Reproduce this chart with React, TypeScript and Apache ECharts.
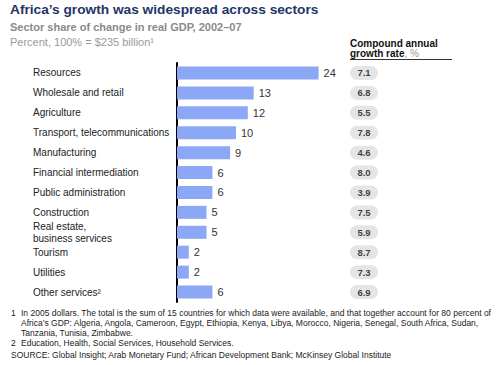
import React, { useEffect, useRef } from "react";
import * as echarts from "echarts";

const categories = [
  "Resources",
  "Wholesale and retail",
  "Agriculture",
  "Transport, telecommunications",
  "Manufacturing",
  "Financial intermediation",
  "Public administration",
  "Construction",
  "Real estate,\nbusiness services",
  "Tourism",
  "Utilities",
  "Other services²",
];
const shareValues = [24, 13, 12, 10, 9, 6, 6, 5, 5, 2, 2, 6];
const growthRates = ["7.1", "6.8", "5.5", "7.8", "4.6", "8.0", "3.9", "7.5", "5.9", "8.7", "7.3", "6.9"];

const titleText = "Africa’s growth was widespread across sectors";
const subtitleText = "Sector share of change in real GDP, 2002–07";
const unitText = "Percent, 100% = $235 billion¹";
const footnoteLines: { num: string; text: string }[] = [
  { num: "1", text: "In 2005 dollars. The total is the sum of 15 countries for which data were available, and that together account for 80 percent of" },
  { num: "", text: "Africa’s GDP: Algeria, Angola, Cameroon, Egypt, Ethiopia, Kenya, Libya, Morocco, Nigeria, Senegal, South Africa, Sudan," },
  { num: "", text: "Tanzania, Tunisia, Zimbabwe." },
  { num: "2", text: "Education, Health, Social Services, Household Services." },
];
const sourceText = "SOURCE: Global Insight; Arab Monetary Fund; African Development Bank; McKinsey Global Institute";

const FONT = "'Liberation Sans', Arial, Helvetica, sans-serif";
const PILL = "path://M7,0 H21 A7,7 0 0 1 21,14 H7 A7,7 0 0 1 7,0 Z";

export default function App() {
  const ref = useRef<HTMLDivElement>(null);
  useEffect(() => {
    if (!ref.current) return;
    const chart = echarts.init(ref.current, undefined, { renderer: "svg" });
    const top = 63;
    const height = 239;
    const footY = [313, 323, 332.5, 343];
    const graphic: any[] = [
      { type: "text", left: 10, top: 2, style: { text: titleText, font: `bold 13.7px ${FONT}`, fill: "#1f3566" } },
      { type: "text", left: 10, top: 21, style: { text: subtitleText, font: `bold 11px ${FONT}`, fill: "#8a8a8a" } },
      { type: "text", left: 10, top: 36, style: { text: unitText, font: `11px ${FONT}`, fill: "#9a9a9a" } },
      { type: "text", left: 350, top: 38.5, style: { text: "Compound annual", font: `bold 10px ${FONT}`, fill: "#111" } },
      {
        type: "text",
        left: 350,
        top: 48.5,
        style: {
          text: "{b|growth rate}{g|, %}",
          rich: {
            b: { font: `bold 10px ${FONT}`, fill: "#111" },
            g: { font: `10px ${FONT}`, fill: "#999" },
          },
        },
      },
      { type: "line", shape: { x1: 350, y1: 59.5, x2: 452, y2: 59.5 }, style: { stroke: "#333", lineWidth: 1 } },
    ];
    footnoteLines.forEach((f, i) => {
      if (f.num) {
        graphic.push({ type: "text", x: 11, y: footY[i], style: { text: f.num, font: `8.5px ${FONT}`, fill: "#222", verticalAlign: "middle" } });
      }
      graphic.push({ type: "text", x: 21, y: footY[i], style: { text: f.text, font: `8.5px ${FONT}`, fill: "#222", verticalAlign: "middle" } });
    });
    graphic.push({ type: "text", x: 11, y: 355, style: { text: sourceText, font: `8.5px ${FONT}`, fill: "#222", verticalAlign: "middle" } });

    chart.setOption({
      animation: false,
      backgroundColor: "#fff",
      textStyle: { fontFamily: FONT },
      grid: [
        { left: 177, top, width: 177, height, containLabel: false },
        { left: 350, top, width: 28, height, containLabel: false },
      ],
      xAxis: [
        { type: "value", gridIndex: 0, min: 0, max: 30, show: false },
        { type: "value", gridIndex: 1, min: 0, max: 1, show: false },
      ],
      yAxis: [
        {
          type: "category",
          gridIndex: 0,
          data: categories,
          inverse: true,
          axisLine: { show: true, lineStyle: { color: "#000", width: 2 } },
          axisTick: { show: false },
          axisLabel: { align: "left", margin: 144, color: "#222", fontSize: 10, fontFamily: FONT, lineHeight: 12 },
        },
        {
          type: "category",
          gridIndex: 1,
          data: categories,
          inverse: true,
          show: false,
        },
      ],
      series: [
        {
          type: "bar",
          xAxisIndex: 0,
          yAxisIndex: 0,
          data: shareValues,
          barWidth: 13,
          itemStyle: { color: "#8ba7f5" },
          label: { show: true, position: "right", distance: 5, color: "#333", fontSize: 11, fontFamily: FONT },
        },
        {
          type: "scatter",
          xAxisIndex: 1,
          yAxisIndex: 1,
          data: growthRates.map((g, i) => [0.5, i]),
          symbol: PILL,
          symbolSize: [28, 14],
          itemStyle: { color: "#dedede" },
          label: {
            show: true,
            position: "inside",
            formatter: (p: any) => growthRates[p.dataIndex],
            color: "#111",
            fontSize: 9.5,
            fontWeight: "bold",
            fontFamily: FONT,
          },
        },
      ],
      graphic,
    });
    return () => chart.dispose();
  }, []);
  return <div ref={ref} style={{ position: "absolute", left: 0, top: 0, width: 500, height: 365 }} />;
}
